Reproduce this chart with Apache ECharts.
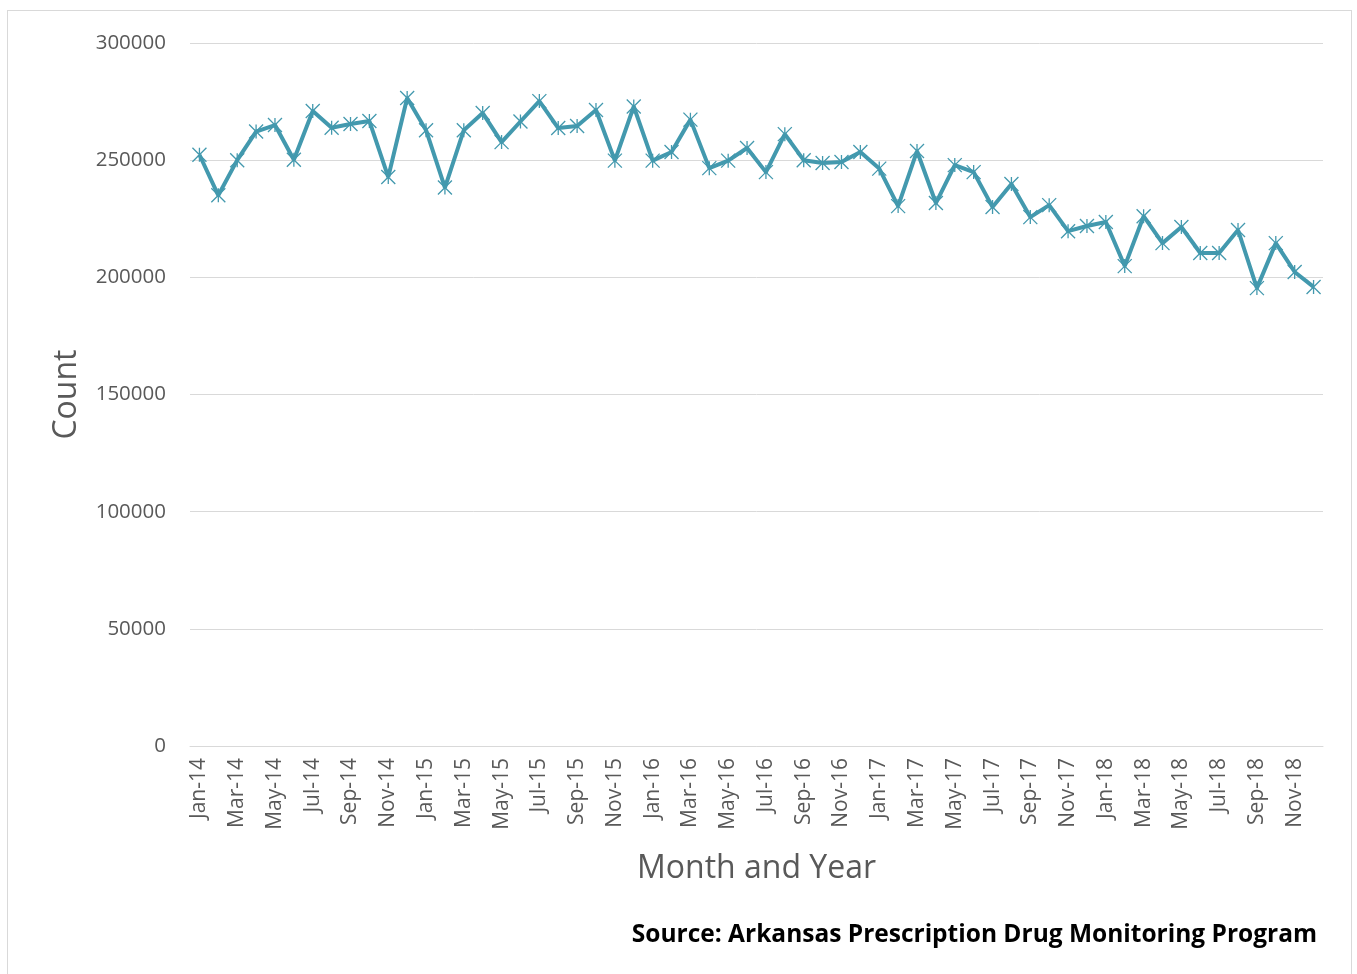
<!DOCTYPE html>
<html>
<head>
<meta charset="utf-8">
<script src="https://cdn.jsdelivr.net/npm/echarts@6/dist/echarts.min.js"></script>
<style>
  html, body { margin: 0; padding: 0; background: #fff; }
  #frame { position: absolute; left: 7px; top: 10px; width: 1345px; height: 980px; border: 1px solid #d9d9d9; box-sizing: border-box; }
  #chart { position: absolute; left: 0; top: 0; width: 1357px; height: 974px; }
</style>
</head>
<body>
<div id="frame"></div>
<div id="chart"></div>
<script>
var years = ['14', '15', '16', '17', '18'];
var monthNames = ['Jan', 'Feb', 'Mar', 'Apr', 'May', 'Jun', 'Jul', 'Aug', 'Sep', 'Oct', 'Nov', 'Dec'];
var months = [];
years.forEach(function (y) {
  monthNames.forEach(function (m) { months.push(m + '-' + y); });
});

// monthly counts
var counts = [
  252300, 235000, 250000, 262200, 265000, 250200, 271000, 263800, 265400, 266700, 242800, 276500,
  262800, 238300, 262800, 270100, 257700, 266500, 275200, 263700, 264600, 271400, 249800, 272900,
  249800, 253500, 267300, 246600, 249800, 255200, 244900, 261100, 250000, 248800, 249200, 253500,
  246400, 230400, 253900, 231700, 247900, 244900, 230000, 239800, 225700, 230800, 219700, 221900,
  223600, 204800, 226100, 214600, 221500, 210400, 210400, 220200, 195400, 214600, 202300, 195900
];

var yTicks = [0, 50000, 100000, 150000, 200000, 250000, 300000];

var gray = '#595959';
var lineColor = '#4399AE';
var font = '"Open Sans", "Noto Sans", sans-serif';

var chart = echarts.init(document.getElementById('chart'));
chart.setOption({
  backgroundColor: 'transparent',
  animation: false,
  grid: { left: 190, right: 34, top: 43, bottom: 228, containLabel: false },
  xAxis: {
    type: 'category',
    data: months,
    boundaryGap: true,
    name: 'Month and Year',
    nameLocation: 'middle',
    nameGap: 107,
    nameTextStyle: { color: gray, fontSize: 32, fontFamily: font },
    axisLine: { show: true, lineStyle: { color: '#d9d9d9', width: 1 } },
    axisTick: { show: false },
    axisLabel: {
      interval: 1,
      rotate: 90,
      margin: 12,
      color: gray,
      fontSize: 21,
      fontFamily: font
    }
  },
  yAxis: {
    type: 'value',
    min: yTicks[0],
    max: yTicks[yTicks.length - 1],
    interval: 50000,
    name: 'Count',
    nameLocation: 'middle',
    nameGap: 107,
    nameTextStyle: { color: gray, fontSize: 32, fontFamily: font },
    axisLine: { show: false },
    axisTick: { show: false },
    axisLabel: {
      color: gray, fontSize: 20.5, fontFamily: font, margin: 24,
      formatter: function (v) { return String(v); }
    },
    splitLine: { lineStyle: { color: '#d9d9d9', width: 1 } }
  },
  series: [{
    type: 'line',
    data: counts,
    showAllSymbol: true,
    symbol: 'path://M0,0L10,10M10,0L0,10M5,0L5,10',
    symbolSize: 14,
    lineStyle: { color: lineColor, width: 4 },
    itemStyle: { color: lineColor, borderColor: lineColor, borderWidth: 1.3 }
  }],
  graphic: [{
    type: 'text',
    right: 40,
    top: 923,
    style: {
      text: 'Source: Arkansas Prescription Drug Monitoring Program',
      fill: '#000',
      font: 'bold 24.5px "Open Sans", "Noto Sans", sans-serif'
    }
  }]
});
</script>
</body>
</html>
